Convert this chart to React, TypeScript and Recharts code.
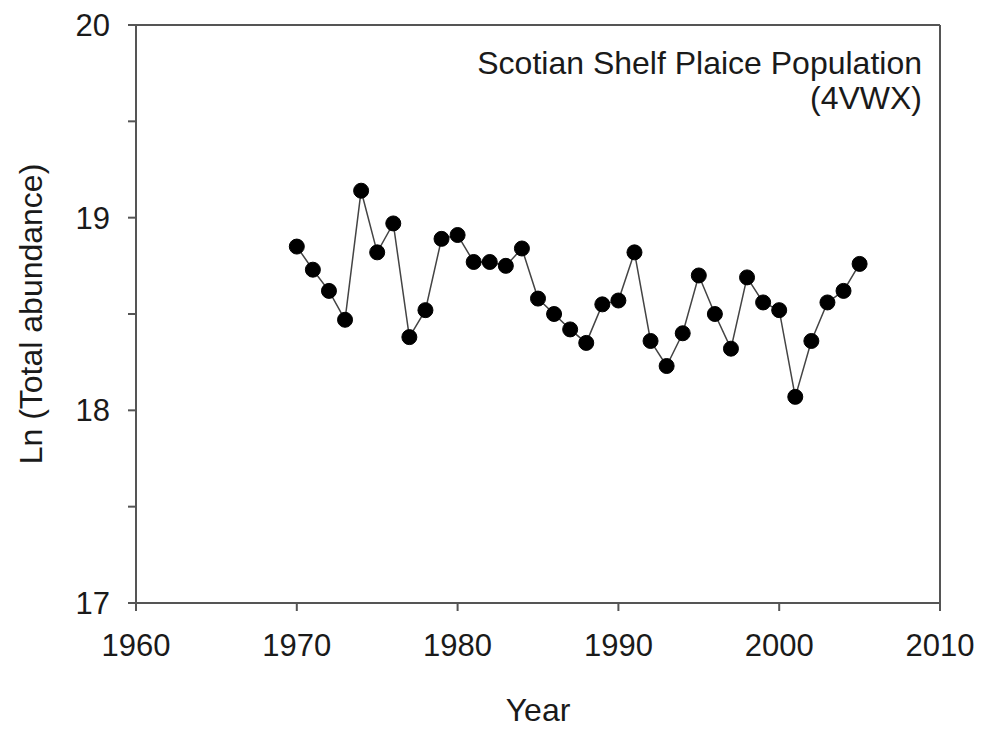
import React from 'react';
import {
  LineChart,
  Line,
  XAxis,
  YAxis,
  ReferenceLine
} from 'recharts';

// Survey years and log total abundance
const years = [
  1970, 1971, 1972, 1973, 1974, 1975, 1976, 1977, 1978, 1979,
  1980, 1981, 1982, 1983, 1984, 1985, 1986, 1987, 1988, 1989,
  1990, 1991, 1992, 1993, 1994, 1995, 1996, 1997, 1998, 1999,
  2000, 2001, 2002, 2003, 2004, 2005
];
const lnAbundance = [
  18.85, 18.73, 18.62, 18.47, 19.14, 18.82, 18.97, 18.38, 18.52, 18.89,
  18.91, 18.77, 18.77, 18.75, 18.84, 18.58, 18.50, 18.42, 18.35, 18.55,
  18.57, 18.82, 18.36, 18.23, 18.40, 18.70, 18.50, 18.32, 18.69, 18.56,
  18.52, 18.07, 18.36, 18.56, 18.62, 18.76
];

const xTicks = [1960, 1970, 1980, 1990, 2000, 2010];
const yTicks = [17, 17.5, 18, 18.5, 19, 19.5, 20];

const titleLines = ['Scotian Shelf Plaice Population', '(4VWX)'];

const FONT = '"Liberation Sans", Arial, sans-serif';
const AXIS = '#555';
const TEXT = '#1a1a1a';

const App: React.FC = () => {
  const data = years.map((year, i) => ({ year, value: lnAbundance[i] }));

  return (
    <div style={{ position: 'absolute', left: 0, top: 0, width: 984, height: 730, background: '#fff', fontFamily: FONT }}>
      <LineChart
        width={984}
        height={730}
        data={data}
        margin={{ top: 25, right: 44, left: 0, bottom: 0 }}
      >
        <XAxis
          dataKey="year"
          type="number"
          domain={[1960, 2010]}
          ticks={xTicks}
          height={127}
          stroke={AXIS}
          strokeWidth={2}
          tickSize={8}
          tickMargin={23}
          tick={{ fontSize: 31, fill: TEXT, fontFamily: FONT }}
          label={{ value: 'Year', position: 'insideBottom', offset: 9, fontSize: 32, fill: TEXT, fontFamily: FONT }}
        />
        <YAxis
          type="number"
          domain={[17, 20]}
          ticks={yTicks}
          width={136}
          stroke={AXIS}
          strokeWidth={2}
          tickSize={8}
          tickMargin={18}
          tickFormatter={(v: number) => (Number.isInteger(v) ? String(v) : '')}
          tick={{ fontSize: 31, fill: TEXT, fontFamily: FONT }}
          label={{
            value: 'Ln (Total abundance)',
            angle: -90,
            position: 'insideLeft',
            offset: 31,
            fontSize: 32,
            fill: TEXT,
            fontFamily: FONT,
            style: { textAnchor: 'middle' }
          }}
        />
        {/* close the frame on top and right */}
        <ReferenceLine y={20} stroke={AXIS} strokeWidth={2} />
        <ReferenceLine x={2010} stroke={AXIS} strokeWidth={2} />
        <Line
          type="linear"
          dataKey="value"
          stroke="#444"
          strokeWidth={1.5}
          dot={{ r: 7.5, fill: '#000', stroke: '#000', strokeWidth: 1 }}
          activeDot={false}
          isAnimationActive={false}
        />
      </LineChart>

      <div
        style={{
          position: 'absolute',
          right: 62,
          top: 46,
          textAlign: 'right',
          fontSize: 32,
          lineHeight: '35px',
          color: TEXT
        }}
      >
        {titleLines.map(line => (
          <div key={line}>{line}</div>
        ))}
      </div>
    </div>
  );
};

export default App;
